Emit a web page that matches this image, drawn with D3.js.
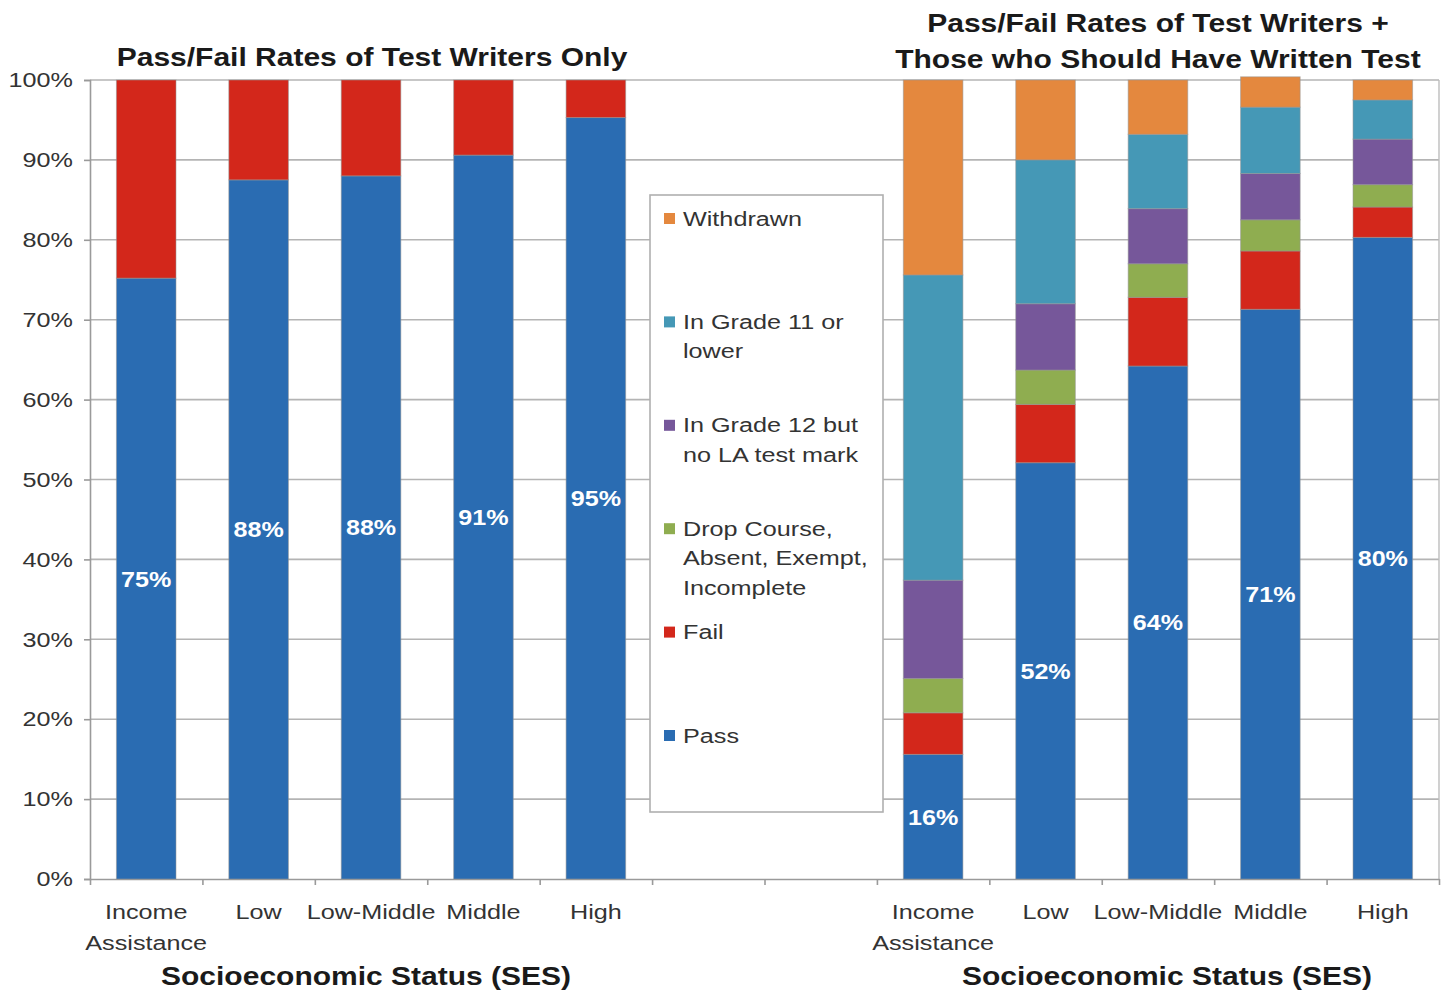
<!DOCTYPE html>
<html>
<head>
<meta charset="utf-8">
<script src="https://cdn.jsdelivr.net/npm/d3@7"></script>
<style>
  html, body { margin: 0; padding: 0; background: #fff; }
  svg { display: block; font-family: "Liberation Sans", Arial, sans-serif; }
</style>
</head>
<body>
<svg id="chart" width="1448" height="996"></svg>
<script>
// SES categories shown in both panels
const categories = ["Income Assistance", "Low", "Low-Middle", "Middle", "High"];

// Left panel: test writers only (percent)
const writersPass = [75.2, 87.5, 88.0, 90.6, 95.3];
const writersFail = [24.8, 12.5, 12.0, 9.4, 4.7];
const writersLabels = ["75%", "88%", "88%", "91%", "95%"];

// Right panel: test writers + those who should have written (percent)
const allPass      = [15.6, 52.1, 64.2, 71.3, 80.3];
const allFail      = [5.2, 7.3, 8.6, 7.3, 3.8];
const allDrop      = [4.3, 4.3, 4.2, 3.9, 2.8];
const allGrade12   = [12.3, 8.3, 6.9, 5.8, 5.7];
const allGrade11   = [38.2, 18.0, 9.3, 8.3, 4.9];
const allWithdrawn = [24.4, 10.0, 6.8, 3.8, 2.5];
const allLabels = ["16%", "52%", "64%", "71%", "80%"];

const yTicks = [0, 10, 20, 30, 40, 50, 60, 70, 80, 90, 100];

// Series order bottom→top, with legend text (top→bottom in legend)
const seriesKeys = ["pass", "fail", "drop", "grade12", "grade11", "withdrawn"];
const seriesColors = {
  pass: "#2a6cb2", fail: "#d3271b", drop: "#8fad50",
  grade12: "#76579a", grade11: "#4598b6", withdrawn: "#e4883e"
};
const legendItems = [
  { key: "withdrawn", lines: ["Withdrawn"] },
  { key: "grade11", lines: ["In Grade 11 or", "lower"] },
  { key: "grade12", lines: ["In Grade 12 but", "no LA test mark"] },
  { key: "drop", lines: ["Drop Course,", "Absent, Exempt,", "Incomplete"] },
  { key: "fail", lines: ["Fail"] },
  { key: "pass", lines: ["Pass"] }
];

// The typeface is set slightly wide: every label gets a horizontal stretch
const TEXT_STRETCH = 1.2;
const LABEL_STRETCH = 1.14;

const svg = d3.select("#chart");
const plot = { left: 90, right: 1439, top: 80, bottom: 879 };

// Place a text element at (x, y) with a horizontal stretch around its anchor
function place(sel, px, py, sx) {
  return sel.attr("x", 0).attr("y", 0)
    .attr("transform", `translate(${px},${py}) scale(${sx},1)`);
}

// Twelve slots: five left bars, two empty slots (legend area), five right bars
const slotKeys = categories.map(c => "L|" + c)
  .concat(["gap1", "gap2"])
  .concat(categories.map(c => "R|" + c));

const x = d3.scaleBand()
  .domain(slotKeys)
  .range([plot.left, plot.right])
  .paddingInner(0.47)
  .paddingOuter(0.235);

const slot = d3.scaleLinear().domain([0, slotKeys.length]).range([plot.left, plot.right]);
const y = d3.scaleLinear().domain([0, 100]).range([plot.bottom, plot.top]);

// Horizontal gridlines
svg.append("g")
  .selectAll("line")
  .data(yTicks.filter(t => t > 0))
  .join("line")
  .attr("x1", plot.left).attr("x2", plot.right)
  .attr("y1", d => y(d)).attr("y2", d => y(d))
  .attr("stroke", "#b4b4b4").attr("stroke-width", 1.6);

// Right frame edge
svg.append("line")
  .attr("x1", plot.right).attr("x2", plot.right)
  .attr("y1", plot.top).attr("y2", plot.bottom)
  .attr("stroke", "#bdbdbd").attr("stroke-width", 1.4);

// Y axis
const yAxis = svg.append("g")
  .attr("transform", `translate(${plot.left},0)`)
  .call(d3.axisLeft(y).tickValues(yTicks).tickFormat(d => d + "%").tickSize(6).tickPadding(10));
yAxis.select(".domain").attr("stroke", "#9a9a9a").attr("stroke-width", 1.6);
yAxis.selectAll(".tick line").attr("stroke", "#9a9a9a").attr("stroke-width", 1.6);
yAxis.selectAll(".tick text")
  .attr("font-size", 21).attr("fill", "#333")
  .attr("font-family", "Liberation Sans, Arial, sans-serif")
  .each(function () { place(d3.select(this), -17, 0, TEXT_STRETCH); });

// X axis with ticks on slot boundaries
const xAxis = svg.append("g")
  .attr("transform", `translate(0,${plot.bottom})`)
  .call(d3.axisBottom(slot).tickValues(d3.range(0, slotKeys.length + 1)).tickFormat("").tickSize(6).tickSizeOuter(0));
xAxis.select(".domain").attr("stroke", "#9a9a9a").attr("stroke-width", 1.6);
xAxis.selectAll(".tick line").attr("stroke", "#9a9a9a").attr("stroke-width", 1.6);

// Left panel stacked bars
const leftRows = categories.map((c, i) => ({ key: "L|" + c, pass: writersPass[i], fail: writersFail[i] }));
const leftStack = d3.stack().keys(["pass", "fail"])(leftRows);

// Right panel stacked bars
const rightRows = categories.map((c, i) => ({
  key: "R|" + c, pass: allPass[i], fail: allFail[i], drop: allDrop[i],
  grade12: allGrade12[i], grade11: allGrade11[i], withdrawn: allWithdrawn[i]
}));
const rightStack = d3.stack().keys(seriesKeys)(rightRows);

function drawStack(stacked) {
  svg.append("g")
    .selectAll("g")
    .data(stacked)
    .join("g")
    .attr("fill", s => seriesColors[s.key])
    .selectAll("rect")
    .data(s => s)
    .join("rect")
    .attr("x", d => x(d.data.key))
    .attr("width", x.bandwidth())
    .attr("y", d => y(d[1]))
    .attr("height", d => y(d[0]) - y(d[1]))
    .attr("stroke", "rgba(150,150,150,0.55)")
    .attr("stroke-width", 1);
}
drawStack(leftStack);
drawStack(rightStack);

// Pass-rate labels at middle of the pass segment
function drawLabels(rows, labels) {
  svg.append("g")
    .selectAll("text")
    .data(rows)
    .join("text")
    .attr("dy", "0.36em")
    .attr("text-anchor", "middle")
    .attr("font-size", 22)
    .attr("font-weight", "bold")
    .attr("fill", "#fff")
    .text((d, i) => labels[i])
    .each(function (d) {
      place(d3.select(this), x(d.key) + x.bandwidth() / 2, y(d.pass / 2), LABEL_STRETCH);
    });
}
drawLabels(leftRows, writersLabels);
drawLabels(rightRows, allLabels);

// Category labels under each bar
const catLines = {
  "Income Assistance": ["Income", "Assistance"],
  "Low": ["Low"], "Low-Middle": ["Low-Middle"], "Middle": ["Middle"], "High": ["High"]
};
const catKeys = slotKeys.filter(k => k.includes("|"));
const catText = svg.append("g")
  .selectAll("text")
  .data(catKeys)
  .join("text")
  .attr("text-anchor", "middle")
  .attr("font-size", 21)
  .attr("fill", "#333")
  .each(function (k) { place(d3.select(this), x(k) + x.bandwidth() / 2, 919, TEXT_STRETCH); });
catText.selectAll("tspan")
  .data(k => catLines[k.split("|")[1]])
  .join("tspan")
  .attr("x", 0)
  .attr("dy", (d, i) => i === 0 ? 0 : 31)
  .text(d => d);

// Axis titles
const leftCenter = (x(slotKeys[0]) + x(slotKeys[4]) + x.bandwidth()) / 2;
const rightCenter = (x(slotKeys[7]) + x(slotKeys[11]) + x.bandwidth()) / 2;
[leftCenter - 5, rightCenter + 9].forEach(cx => {
  place(svg.append("text"), cx, 985, TEXT_STRETCH)
    .attr("text-anchor", "middle")
    .attr("font-size", 25).attr("font-weight", "bold").attr("fill", "#1a1a1a")
    .text("Socioeconomic Status (SES)");
});

// Panel titles
place(svg.append("text"), leftCenter + 1, 66, TEXT_STRETCH)
  .attr("text-anchor", "middle")
  .attr("font-size", 25).attr("font-weight", "bold").attr("fill", "#1a1a1a")
  .text("Pass/Fail Rates of Test Writers Only");
const rightTitle = place(svg.append("text"), rightCenter, 32, TEXT_STRETCH)
  .attr("text-anchor", "middle")
  .attr("font-size", 25).attr("font-weight", "bold").attr("fill", "#1a1a1a");
rightTitle.append("tspan").attr("x", 0).attr("dy", 0).text("Pass/Fail Rates of Test Writers +");
rightTitle.append("tspan").attr("x", 0).attr("dy", 36).text("Those who Should Have Written Test");

// Legend
const legend = svg.append("g");
legend.append("rect")
  .attr("x", 650).attr("y", 195).attr("width", 233).attr("height", 617)
  .attr("fill", "#fff").attr("stroke", "#b0b0b0").attr("stroke-width", 1.6);
const legendStep = 103.4;
const item = legend.selectAll("g.item")
  .data(legendItems)
  .join("g")
  .attr("class", "item")
  .attr("transform", (d, i) => `translate(0,${218 + i * legendStep})`);
item.append("rect")
  .attr("x", 664).attr("y", -5).attr("width", 11).attr("height", 11)
  .attr("fill", d => seriesColors[d.key]);
const itemText = item.append("text")
  .attr("font-size", 21).attr("fill", "#333")
  .each(function () { place(d3.select(this), 683, 0, TEXT_STRETCH); });
itemText.selectAll("tspan")
  .data(d => d.lines)
  .join("tspan")
  .attr("x", 0)
  .attr("y", (d, i) => i * 29.5)
  .attr("dy", "0.36em")
  .text(d => d);
</script>
</body>
</html>
